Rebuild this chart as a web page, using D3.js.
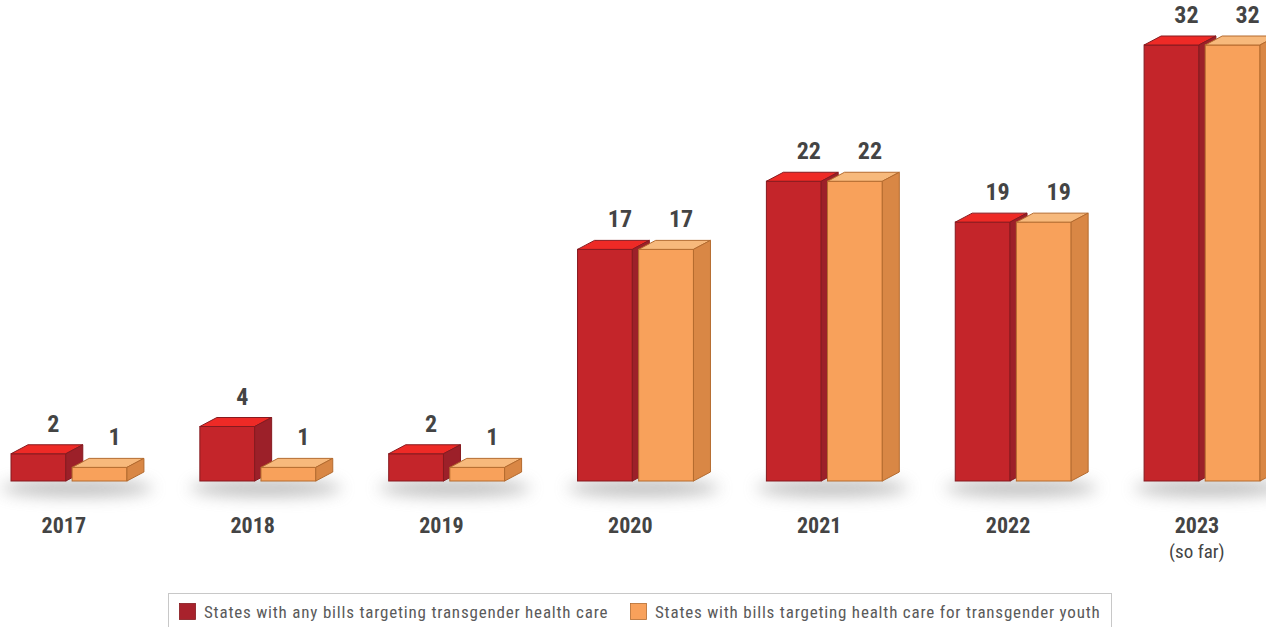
<!DOCTYPE html>
<html>
<head>
<meta charset="utf-8">
<script src="https://cdn.jsdelivr.net/npm/d3@7"></script>
<style>
  body { margin: 0; background: #fff; }
  svg { display: block; }
  .cond { font-family: "Roboto Condensed", "Liberation Sans Narrow", "DejaVu Sans Condensed", sans-serif; }
</style>
</head>
<body>
<div id="chart"></div>
<script>
// data
years = ["2017", "2018", "2019", "2020", "2021", "2022", "2023"];
anyBills = [2, 4, 2, 17, 22, 19, 32];
youthBills = [1, 1, 1, 17, 22, 19, 32];
seriesNames = ["States with any bills targeting transgender health care",
               "States with bills targeting health care for transgender youth"];

width = 1266;
height = 627;
baseY = 481;
depthX = 17;
depthY = 9;

colors = [
  {front: "#c4252a", top: "#ee2a26", side: "#9c2029", stroke: "#861a1f", swatch: "#a8222c"},
  {front: "#f8a15b", top: "#f7b97c", side: "#d98745", stroke: "#b46b2f", swatch: "#f8a15b"}
];

function init() {
  const svg = d3.select("#chart")
    .append("svg")
    .attr("width", width)
    .attr("height", height);

  const defs = svg.append("defs");
  defs.append("filter")
      .attr("id", "blur")
      .attr("x", "-50%").attr("y", "-200%")
      .attr("width", "200%").attr("height", "500%")
    .append("feGaussianBlur")
      .attr("stdDeviation", 8);

  const x0 = d3.scaleBand()
      .domain(years)
      .range([11, 1260])
      .paddingInner(73 / 189)
      .paddingOuter(0);

  const x1 = d3.scaleBand()
      .domain([0, 1])
      .range([0, x0.bandwidth()])
      .paddingInner(6 / 58);

  const y = d3.scaleLinear()
      .domain([0, 32])
      .range([baseY, 45]);

  const data = years.map((yr, i) => ({year: yr, values: [anyBills[i], youthBills[i]]}));

  // shadows
  svg.append("g").selectAll("ellipse")
    .data(data)
    .join("ellipse")
      .attr("cx", d => x0(d.year) + x0.bandwidth() / 2 + 8)
      .attr("cy", baseY + 7)
      .attr("rx", x0.bandwidth() / 2 + 18)
      .attr("ry", 8)
      .attr("fill", "#8f8f8f")
      .attr("opacity", 0.6)
      .attr("filter", "url(#blur)");

  const groups = svg.append("g").selectAll("g")
    .data(data)
    .join("g")
      .attr("transform", d => `translate(${x0(d.year)},0)`);

  [0, 1].forEach(s => {
    const c = colors[s];
    const bar = groups.append("g");
    const w = x1.bandwidth();
    const bx = x1(s);

    // front
    bar.append("rect")
      .attr("x", bx)
      .attr("y", d => y(d.values[s]))
      .attr("width", w)
      .attr("height", d => baseY - y(d.values[s]))
      .attr("fill", c.front)
      .attr("stroke", c.stroke)
      .attr("stroke-width", 1);

    // top
    bar.append("path")
      .attr("d", d => {
        const t = y(d.values[s]);
        return `M${bx},${t}L${bx + depthX},${t - depthY}L${bx + w + depthX},${t - depthY}L${bx + w},${t}Z`;
      })
      .attr("fill", c.top)
      .attr("stroke", c.stroke)
      .attr("stroke-width", 1)
      .attr("stroke-linejoin", "round");

    // side
    bar.append("path")
      .attr("d", d => {
        const t = y(d.values[s]);
        return `M${bx + w},${t}L${bx + w + depthX},${t - depthY}L${bx + w + depthX},${baseY - depthY}L${bx + w},${baseY}Z`;
      })
      .attr("fill", c.side)
      .attr("stroke", c.stroke)
      .attr("stroke-width", 1)
      .attr("stroke-linejoin", "round");
  });

  // value labels
  [0, 1].forEach(s => {
    groups.append("text")
      .attr("class", "cond")
      .attr("x", x1(s) + x1.bandwidth() / 2 + 15)
      .attr("y", d => y(d.values[s]) - 22)
      .attr("text-anchor", "middle")
      .attr("font-size", "24px")
      .attr("font-weight", "bold")
      .attr("fill", "#444")
      .text(d => d.values[s]);
  });

  // year labels
  groups.append("text")
    .attr("class", "cond")
    .attr("x", x1(0) + x1.bandwidth() - 2)
    .attr("y", 533)
    .attr("text-anchor", "middle")
    .attr("font-size", "22px")
    .attr("font-weight", "bold")
    .attr("fill", "#444")
    .text(d => d.year);

  groups.filter(d => d.year === "2023")
    .append("text")
    .attr("class", "cond")
    .attr("x", x1(0) + x1.bandwidth() - 2)
    .attr("y", 558)
    .attr("text-anchor", "middle")
    .attr("font-size", "19px")
    .attr("fill", "#444")
    .text("(so far)");

  // legend
  const legend = svg.append("g");
  legend.append("rect")
    .attr("x", 168.5)
    .attr("y", 593.5)
    .attr("width", 943)
    .attr("height", 40)
    .attr("fill", "#fff")
    .attr("stroke", "#c8c8c8");

  const legendX = [179, 630];
  seriesNames.forEach((name, i) => {
    legend.append("rect")
      .attr("x", legendX[i] + 0.5)
      .attr("y", 603.5)
      .attr("width", 16)
      .attr("height", 16)
      .attr("fill", colors[i].swatch)
      .attr("stroke", colors[i].stroke)
      .attr("stroke-width", 0.8);
    legend.append("text")
      .attr("class", "cond")
      .attr("x", legendX[i] + 25)
      .attr("y", 618)
      .attr("font-size", "17px")
      .attr("letter-spacing", "0.8px")
      .attr("fill", "#5a5a5a")
      .text(name);
  });
}

window.onload = init;
</script>
</body>
</html>
